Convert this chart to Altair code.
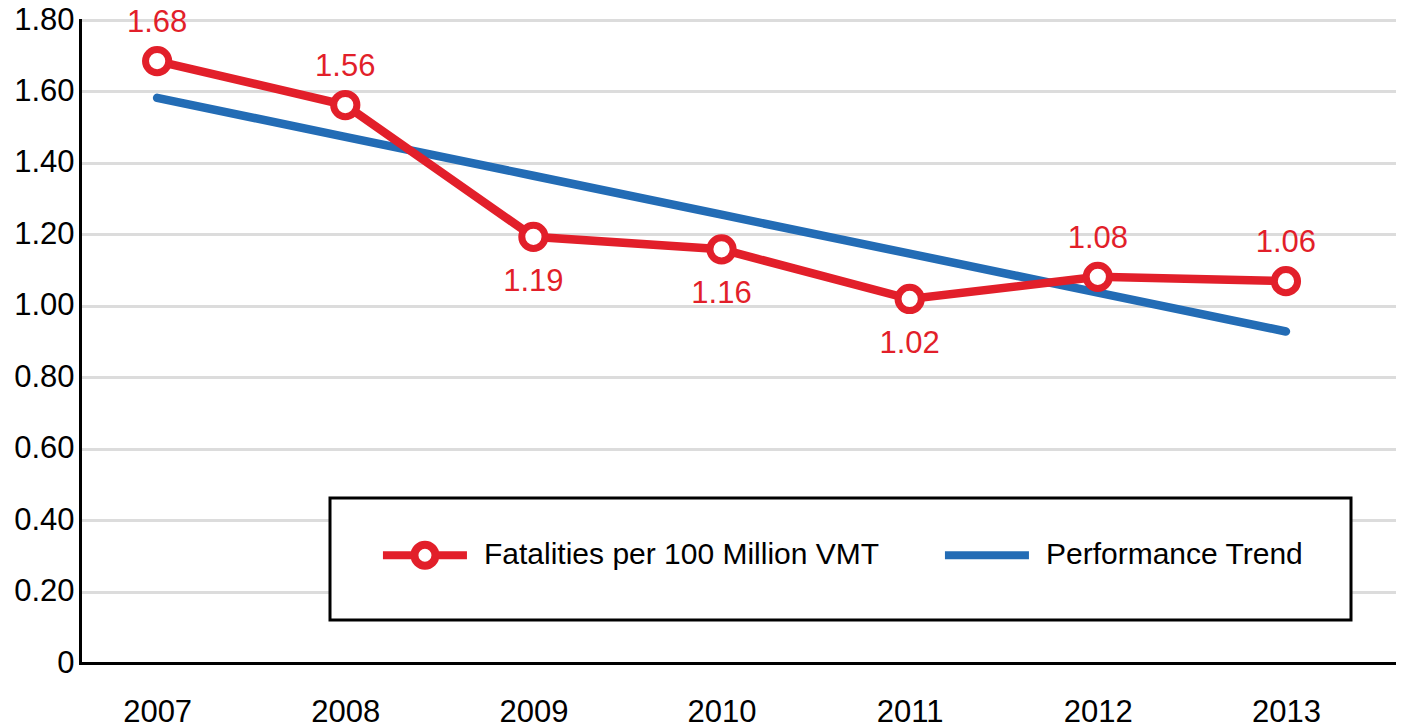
import altair as alt
import pandas as pd

# ---- data ----
years = [2007, 2008, 2009, 2010, 2011, 2012, 2013]
fatality_rate = [1.685, 1.562, 1.193, 1.158, 1.019, 1.081, 1.069]
rate_labels = ["1.68", "1.56", "1.19", "1.16", "1.02", "1.08", "1.06"]
trend_values = [1.582, 1.473, 1.364, 1.255, 1.146, 1.037, 0.928]
series_names = ["Fatalities per 100 Million VMT", "Performance Trend"]
y_ticks = [0, 0.2, 0.4, 0.6, 0.8, 1.0, 1.2, 1.4, 1.6, 1.8]

RED = "#e21f2a"
BLUE = "#236cb5"
FONT = "Liberation Sans"

# legend symbols (unit-scaled SVG paths); invisible move-to points give
# both entries matching bounds inside the legend box
RED_PATH = ("M-0.27,0L1.83,0M3.23,0L5.33,0"
            "M1.83,0A0.7,0.7,0,1,1,3.23,0A0.7,0.7,0,1,1,1.83,0")
BLUE_PATH = "M-0.27,0L5.33,0M2.53,-0.7M2.53,0.7M23.2,0"

rate_df = pd.DataFrame({"year": years, "value": fatality_rate,
                        "label": rate_labels, "trend": trend_values})
rate_df["pos"] = ["above" if v >= t else "below"
                  for v, t in zip(fatality_rate, trend_values)]
trend_df = pd.DataFrame({"year": years, "value": trend_values})
legend_df = pd.DataFrame({
    "year": years + years,
    "value": fatality_rate + trend_values,
    "series": [series_names[0]] * len(years) + [series_names[1]] * len(years),
})

x_enc = alt.X("year:Q",
              scale=alt.Scale(domain=[2006.59, 2013.585], nice=False, zero=False),
              axis=alt.Axis(values=years, format="d", grid=False, labelPadding=34,
                            labelFlush=False, title=None))
y_enc = alt.Y("value:Q",
              scale=alt.Scale(domain=[0, 1.8], nice=False),
              axis=alt.Axis(values=y_ticks, grid=True, labelPadding=6, title=None,
                            labelExpr="datum.value == 0 ? '0' : format(datum.value, '.2f')"))

trend_line = alt.Chart(trend_df).mark_line(
    color=BLUE, strokeWidth=8.5, strokeCap="round"
).encode(x=x_enc, y=y_enc)

rate_line = alt.Chart(rate_df).mark_line(
    color=RED, strokeWidth=8.5
).encode(x=x_enc, y=y_enc)

rate_points = alt.Chart(rate_df).mark_point(
    shape="circle", filled=True, fill="white", stroke=RED, strokeWidth=7,
    size=540, opacity=1
).encode(x=x_enc, y=y_enc)

labels_above = alt.Chart(rate_df).transform_filter(
    alt.datum.pos == "above"
).mark_text(font=FONT, fontSize=31, color=RED, dy=-38, baseline="middle").encode(
    x=x_enc, y=y_enc, text="label:N")

labels_below = alt.Chart(rate_df).transform_filter(
    alt.datum.pos == "below"
).mark_text(font=FONT, fontSize=31, color=RED, dy=45, baseline="middle").encode(
    x=x_enc, y=y_enc, text="label:N")

legend_layer = alt.Chart(legend_df).mark_point(
    opacity=0, filled=False, strokeWidth=8
).encode(
    x=x_enc, y=y_enc,
    stroke=alt.Stroke("series:N",
                      scale=alt.Scale(domain=series_names, range=[RED, BLUE]),
                      legend=alt.Legend(title=None)),
    shape=alt.Shape("series:N",
                    scale=alt.Scale(domain=series_names, range=[RED_PATH, BLUE_PATH]),
                    legend=alt.Legend(title=None)),
)

chart = alt.layer(
    trend_line, rate_line, rate_points, labels_above, labels_below, legend_layer
).properties(
    width=1316, height=643,
    autosize=alt.AutoSizeParams(type="none"),
    padding={"left": 72, "top": 12, "right": 0, "bottom": 64},
).configure_view(
    strokeWidth=0
).configure_axis(
    labelFont=FONT, labelFontSize=31, labelColor="black",
    domainColor="black", domainWidth=3, domainCap="square",
    ticks=False, tickSize=0,
    gridColor="#dcdcdc", gridWidth=3,
).configure_legend(
    orient="none", legendX=250, legendY=478,
    direction="horizontal", columns=2,
    strokeColor="black", strokeWidth=3, fillColor="white", padding=38,
    labelFont=FONT, labelFontSize=30, labelColor="black", labelLimit=700,
    labelOffset=78, columnPadding=48,
    symbolSize=900, symbolStrokeWidth=8, symbolOpacity=1,
    symbolFillColor="white",
)

chart.save("out.html", embed_options={"renderer": "svg", "actions": False})
